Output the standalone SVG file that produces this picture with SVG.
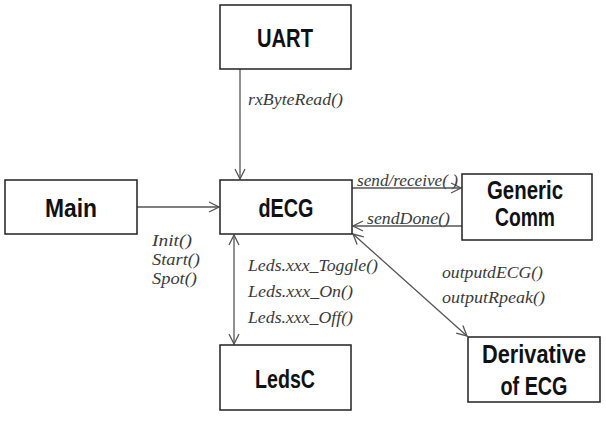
<svg xmlns="http://www.w3.org/2000/svg" width="606" height="424" viewBox="0 0 606 424">
<style>
.box{fill:#fff;stroke:#222;stroke-width:1.5}
.t{font-family:"Liberation Sans",Arial,sans-serif;font-weight:bold;font-size:25px;fill:#111;text-anchor:middle}
.l{font-family:"Liberation Serif","Times New Roman",serif;font-style:italic;font-size:17.5px;fill:#3a3a3a}
.c{stroke:#555;stroke-width:1.3;fill:none}
</style>
<defs>
<marker id="ah" viewBox="0 0 12 12" refX="11" refY="6" markerWidth="12" markerHeight="12" markerUnits="userSpaceOnUse" orient="auto-start-reverse">
<path d="M1,1 L11,6 L1,11" fill="none" stroke="#555" stroke-width="1.3"/>
</marker>
</defs>
<rect width="606" height="424" fill="#fff"/>
<g id="connectors">
<line class="c" x1="240" y1="69" x2="240" y2="179" marker-end="url(#ah)"/>
<line class="c" x1="137" y1="207" x2="219" y2="207" marker-end="url(#ah)"/>
<line class="c" x1="352" y1="188" x2="461" y2="188" marker-end="url(#ah)"/>
<line class="c" x1="462" y1="226" x2="353" y2="226" marker-end="url(#ah)"/>
<line class="c" x1="234" y1="235" x2="234" y2="344" marker-start="url(#ah)" marker-end="url(#ah)"/>
<line class="c" x1="353" y1="234" x2="467" y2="336" marker-start="url(#ah)" marker-end="url(#ah)"/>
<text class="l" x="248" y="105" textLength="95" lengthAdjust="spacingAndGlyphs">rxByteRead()</text>
<text class="l" x="152" y="246" textLength="40" lengthAdjust="spacingAndGlyphs">Init()</text>
<text class="l" x="152" y="265" textLength="48" lengthAdjust="spacingAndGlyphs">Start()</text>
<text class="l" x="152" y="284" textLength="45" lengthAdjust="spacingAndGlyphs">Spot()</text>
<text class="l" x="248" y="271" textLength="130" lengthAdjust="spacingAndGlyphs">Leds.xxx_Toggle()</text>
<text class="l" x="248" y="297" textLength="105" lengthAdjust="spacingAndGlyphs">Leds.xxx_On()</text>
<text class="l" x="248" y="323" textLength="105" lengthAdjust="spacingAndGlyphs">Leds.xxx_Off()</text>
<text class="l" x="357" y="186" textLength="101" lengthAdjust="spacingAndGlyphs">send/receive( )</text>
<text class="l" x="367" y="224" textLength="83" lengthAdjust="spacingAndGlyphs">sendDone()</text>
<text class="l" x="442" y="278" textLength="101" lengthAdjust="spacingAndGlyphs">outputdECG()</text>
<text class="l" x="442" y="303" textLength="103" lengthAdjust="spacingAndGlyphs">outputRpeak()</text>
</g>
<g id="uart"><rect class="box" x="220" y="5" width="131" height="64"/><text class="t" x="285" y="47" textLength="56" lengthAdjust="spacingAndGlyphs">UART</text></g>
<g id="main"><rect class="box" x="5" y="180" width="132" height="54"/><text class="t" x="71" y="217" textLength="52" lengthAdjust="spacingAndGlyphs">Main</text></g>
<g id="decg"><rect class="box" x="220" y="180" width="132" height="54"/><text class="t" x="286" y="217" textLength="55" lengthAdjust="spacingAndGlyphs">dECG</text></g>
<g id="genericcomm"><rect class="box" x="462" y="174" width="130" height="66"/><text class="t" x="525" y="199" textLength="76" lengthAdjust="spacingAndGlyphs">Generic</text><text class="t" x="525" y="226" textLength="60" lengthAdjust="spacingAndGlyphs">Comm</text></g>
<g id="ledsc"><rect class="box" x="220" y="345" width="131" height="65"/><text class="t" x="285" y="388" textLength="60" lengthAdjust="spacingAndGlyphs">LedsC</text></g>
<g id="derivative"><rect class="box" x="468" y="337" width="132" height="65"/><text class="t" x="534" y="363" textLength="104" lengthAdjust="spacingAndGlyphs">Derivative</text><text class="t" x="534" y="395" textLength="67" lengthAdjust="spacingAndGlyphs">of ECG</text></g>
</svg>
